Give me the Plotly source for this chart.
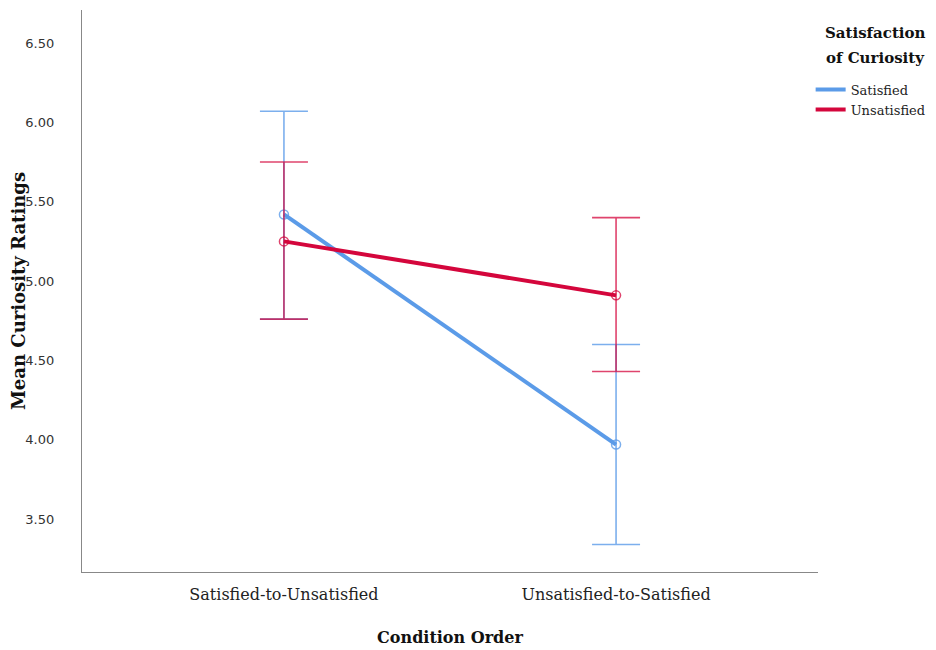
import plotly.graph_objects as go

categories = ["Satisfied-to-Unsatisfied", "Unsatisfied-to-Satisfied"]
sat_mean = [5.42, 3.97]
sat_upper = [6.07, 4.60]
sat_lower = [4.76, 3.34]
unsat_mean = [5.25, 4.91]
unsat_upper = [5.75, 5.40]
unsat_lower = [4.76, 4.43]
y_ticks = [3.5, 4.0, 4.5, 5.0, 5.5, 6.0, 6.5]
legend_title = ["Satisfaction", "of Curiosity"]

BLUE = "#5b9be8"
RED = "#d4063c"
BLUE_E = "rgba(91,155,232,0.8)"
RED_E = "rgba(212,6,60,0.75)"
SERIF = "DejaVu Serif, serif"

fig = go.Figure()

def add_series(name, mean, upper, lower, color, ecolor):
    fig.add_trace(go.Scatter(
        x=categories, y=mean, mode="markers", showlegend=False,
        marker=dict(symbol="circle-open", size=9, color=ecolor, line=dict(width=1.5, color=ecolor)),
        error_y=dict(type="data", symmetric=False,
                     array=[u - m for u, m in zip(upper, mean)],
                     arrayminus=[m - l for m, l in zip(mean, lower)],
                     color=ecolor, thickness=1.6, width=24),
        hoverinfo="skip"))
    fig.add_trace(go.Scatter(
        x=categories, y=mean, mode="lines", name=name,
        line=dict(color=color, width=4)))

add_series("Satisfied", sat_mean, sat_upper, sat_lower, BLUE, BLUE_E)
add_series("Unsatisfied", unsat_mean, unsat_upper, unsat_lower, RED, RED_E)

for line_text, ypos in zip(legend_title, [0.959, 0.915]):
    fig.add_annotation(
        text=f"<b>{line_text}</b>", xref="paper", yref="paper",
        x=1.0, y=ypos, xshift=57, xanchor="center", yanchor="middle",
        showarrow=False, align="center",
        font=dict(family=SERIF, size=15, color="#111"))

fig.update_layout(
    width=936, height=650,
    margin=dict(l=74, r=126, t=2, b=86, autoexpand=False),
    paper_bgcolor="white", plot_bgcolor="white",
    font=dict(family=SERIF, color="#222"),
    legend=dict(
        x=0.99, y=0.885, xanchor="left", yanchor="top",
        font=dict(family=SERIF, size=13, color="#222"),
        tracegroupgap=0, itemwidth=30, bgcolor="rgba(0,0,0,0)",
    ),
    xaxis=dict(
        type="category", range=[-0.608, 1.608], automargin=False,
        showline=True, linecolor="#888", linewidth=1.2, mirror=False,
        showgrid=False, ticks="", zeroline=False,
        tickfont=dict(family=SERIF, size=16, color="#222"),
        ticklabelstandoff=8,
        title=dict(text="<b>Condition Order</b>", font=dict(family=SERIF, size=16, color="#111"), standoff=28),
    ),
    yaxis=dict(
        range=[3.167, 6.708], automargin=False,
        tickvals=y_ticks, ticktext=[f"{v:.2f}" for v in y_ticks],
        showline=True, linecolor="#888", linewidth=1.2,
        showgrid=False, ticks="", zeroline=False,
        tickfont=dict(family="DejaVu Sans, sans-serif", size=13, color="#333"),
        ticklabelstandoff=24,
        title=dict(text="<b>Mean Curiosity Ratings</b>", font=dict(family=SERIF, size=18, color="#111"), standoff=6),
    ),
)

fig.write_html("out.html")
